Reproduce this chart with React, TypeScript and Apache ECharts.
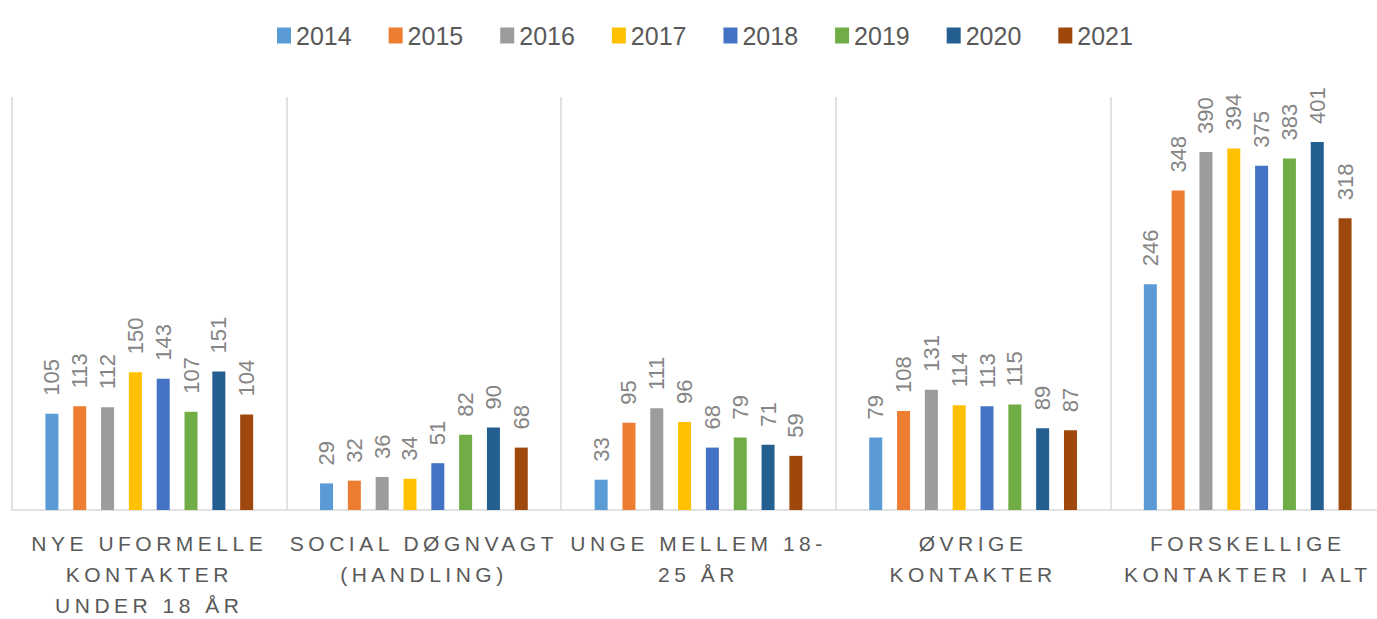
import React, { useEffect, useRef } from "react";
import * as echarts from "echarts";

const categories = [
  "NYE UFORMELLE\nKONTAKTER\nUNDER 18 ÅR",
  "SOCIAL DØGNVAGT\n(HANDLING)",
  "UNGE MELLEM 18-\n25 ÅR",
  "ØVRIGE\nKONTAKTER",
  "FORSKELLIGE\nKONTAKTER I ALT",
];

const years = ["2014", "2015", "2016", "2017", "2018", "2019", "2020", "2021"];

const v2014 = [105, 29, 33, 79, 246];
const v2015 = [113, 32, 95, 108, 348];
const v2016 = [112, 36, 111, 131, 390];
const v2017 = [150, 34, 96, 114, 394];
const v2018 = [143, 51, 68, 113, 375];
const v2019 = [107, 82, 79, 115, 383];
const v2020 = [151, 90, 71, 89, 401];
const v2021 = [104, 68, 59, 87, 318];

const seriesValues = [v2014, v2015, v2016, v2017, v2018, v2019, v2020, v2021];

const colors = [
  "#5B9BD5",
  "#ED7D31",
  "#9A9C9D",
  "#FFC000",
  "#4472C4",
  "#70AD47",
  "#255E91",
  "#9E480E",
];

const FONT = "'Liberation Sans', Arial, sans-serif";

export default function App() {
  const ref = useRef<HTMLDivElement>(null);

  useEffect(() => {
    if (!ref.current) return;
    const chart = echarts.init(ref.current, undefined, { renderer: "svg" });
    chart.setOption({
      animation: false,
      color: colors,
      textStyle: { fontFamily: FONT },
      legend: {
        top: 18,
        left: 272,
        itemWidth: 14,
        itemHeight: 16,
        itemGap: 37,
        icon: "rect",
        textStyle: { fontSize: 25, color: "#595959", fontFamily: FONT },
        data: years,
      },
      grid: {
        left: 12,
        width: 1373,
        top: 97,
        bottom: 109,
        containLabel: false,
        outerBoundsMode: "none",
      },
      xAxis: {
        type: "category",
        data: categories,
        boundaryGap: true,
        axisLine: { show: true, lineStyle: { color: "#d9d9d9", width: 1.5 } },
        axisTick: { show: false },
        splitLine: { show: true, lineStyle: { color: "#d9d9d9", width: 1.5 } },
        axisLabel: {
          interval: 0,
          margin: 18,
          fontSize: 21,
          lineHeight: 31,
          color: "#595959",
          fontFamily: FONT,
        },
      },
      yAxis: {
        type: "value",
        min: 0,
        max: 450,
        show: false,
        splitLine: { show: false },
      },
      series: years.map((y, i) => ({
        name: y,
        type: "bar",
        data: seriesValues[i],
        barWidth: 13,
        barGap: "114%",
        label: {
          show: true,
          position: "top",
          rotate: 90,
          align: "left",
          verticalAlign: "middle",
          distance: 18,
          fontSize: 22,
          color: "#858585",
          fontFamily: FONT,
        },
      })),
    });
    return () => chart.dispose();
  }, []);

  return (
    <>
      <style>{`#chart svg text[text-anchor="middle"] { letter-spacing: 4.5px; }`}</style>
      <div
        id="chart"
        ref={ref}
        style={{ position: "absolute", left: 0, top: 0, width: 1377, height: 619 }}
      />
    </>
  );
}
